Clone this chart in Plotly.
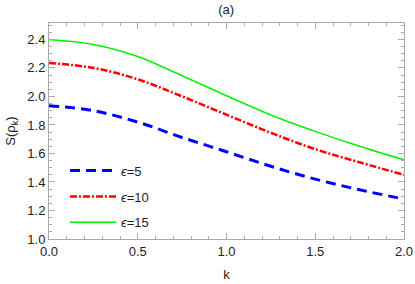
import plotly.graph_objects as go

k = [0.0, 0.25, 0.5, 0.75, 1.0, 1.25, 1.5, 1.75, 2.0]
s_eps5 = [1.935, 1.900, 1.820, 1.712, 1.612, 1.510, 1.420, 1.345, 1.280]
s_eps10 = [2.235, 2.200, 2.120, 2.000, 1.872, 1.745, 1.630, 1.538, 1.450]
s_eps15 = [2.400, 2.365, 2.280, 2.145, 2.005, 1.870, 1.755, 1.650, 1.555]
names = ["<i>ϵ</i>=5", "<i>ϵ</i>=10", "<i>ϵ</i>=15"]

fig = go.Figure()
fig.add_trace(go.Scatter(x=k, y=s_eps5, mode="lines", name=names[0], legendgroup="a",
                         line=dict(color="rgb(0,0,255)", width=3, dash="10px,6px", shape="spline")))
fig.add_trace(go.Scatter(x=k, y=s_eps10, mode="lines", name=names[1], legendgroup="b",
                         line=dict(color="rgb(255,0,0)", width=2.5, dash="7px,2px,2px,2px", shape="spline")))
fig.add_trace(go.Scatter(x=k, y=s_eps15, mode="lines", name=names[2], legendgroup="c",
                         line=dict(color="rgb(0,240,0)", width=1.5, shape="spline")))

font = dict(family="Liberation Sans, Arial", size=13, color="#222222")
axis_common = dict(showline=True, linecolor="#aaaaaa", linewidth=1, mirror="allticks",
                   ticks="inside", tickcolor="#aaaaaa", ticklen=6, showgrid=False, zeroline=False,
                   automargin=False, tickfont=font)
fig.update_xaxes(range=[0, 2.0], dtick=0.5, tickformat=".1f",
                 minor=dict(dtick=0.1, ticks="inside", ticklen=3, tickcolor="#aaaaaa"),
                 title=dict(text="k", font=font, standoff=12),
                 **axis_common)
fig.update_yaxes(range=[1.0, 2.515], tick0=1.0, dtick=0.2, tickformat=".1f",
                 minor=dict(dtick=0.05, ticks="inside", ticklen=3, tickcolor="#aaaaaa"),
                 title=dict(text="S(ρ<sub>k</sub>)", font=font, standoff=8),
                 **axis_common)

fig.update_layout(
    width=415, height=284,
    margin=dict(l=49, r=11, t=23, b=45),
    paper_bgcolor="white", plot_bgcolor="white",
    title=dict(text="(a)", x=0.545, xanchor="center", y=0.965, yanchor="middle", font=font),
    legend=dict(x=0.045, y=0.386, xanchor="left", yanchor="top", bgcolor="rgba(0,0,0,0)",
                traceorder="grouped", tracegroupgap=6, itemwidth=46, font=font),
)

fig.write_html("out.html", config={"displayModeBar": False},
               post_script="document.body.style.margin='0';")
